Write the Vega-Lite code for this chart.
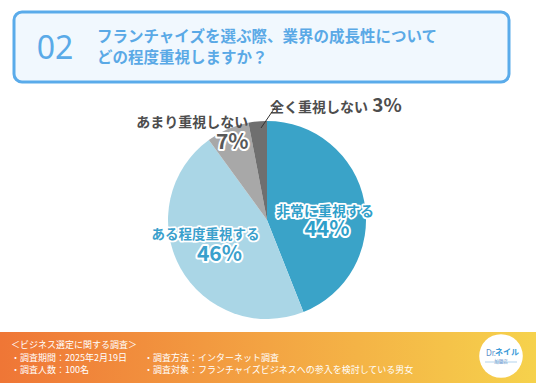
{
  "$schema": "https://vega.github.io/schema/vega-lite/v6.json",
  "width": 536,
  "height": 383,
  "autosize": {"type": "none"},
  "padding": 0,
  "background": "white",
  "config": {"view": {"stroke": null}, "text": {"font": "Noto Sans CJK JP"}},
  "layer": [
    {
      "data": {"values": [{}]},
      "mark": {"type": "rect", "fill": "#f1f8fe", "stroke": "#5aabea", "strokeWidth": 3, "cornerRadius": 8},
      "encoding": {"x": {"value": 14}, "x2": {"value": 509}, "y": {"value": 12}, "y2": {"value": 82}}
    },
    {
      "data": {"values": [{"t": "02"}]},
      "mark": {"type": "text", "fontSize": 32, "fontWeight": 400, "font": "Noto Sans", "color": "#5aaae8", "align": "center", "baseline": "middle"},
      "encoding": {"x": {"value": 55}, "y": {"value": 49}, "text": {"field": "t"}}
    },
    {
      "data": {"values": [{"t": "フランチャイズを選ぶ際、業界の成長性について\nどの程度重視しますか？"}]},
      "mark": {"type": "text", "fontSize": 15.5, "fontWeight": "bold", "color": "#5aa9e6", "align": "left", "baseline": "middle", "lineBreak": "\n", "lineHeight": 21},
      "encoding": {"x": {"value": 97}, "y": {"value": 37}, "text": {"field": "t"}}
    },
    {
      "data": {"values": [
        {"rank": 1, "name": "非常に重視する", "value": 44, "pct": "44%"},
        {"rank": 2, "name": "ある程度重視する", "value": 46, "pct": "46%"},
        {"rank": 3, "name": "あまり重視しない", "value": 7, "pct": "7%"},
        {"rank": 4, "name": "全く重視しない", "value": 3, "pct": "3%"}
      ]},
      "encoding": {
        "x": {"value": 267},
        "y": {"value": 220},
        "theta": {"field": "value", "type": "quantitative", "stack": true},
        "order": {"field": "rank", "type": "quantitative"}
      },
      "layer": [
        {
          "mark": {"type": "arc", "outerRadius": 99},
          "encoding": {
            "color": {"field": "name", "type": "nominal", "legend": null,
              "scale": {"domain": ["非常に重視する", "ある程度重視する", "あまり重視しない", "全く重視しない"],
                        "range": ["#3aa3c8", "#aad6e6", "#a8a8a8", "#6f6f6f"]}}
          }
        },
        {
          "mark": {"type": "text", "dx": -1, "dy": 3, "fontSize": 14, "fontWeight": "bold", "fill": "white", "stroke": "white", "strokeWidth": 3.5, "strokeJoin": "round", "align": "center", "baseline": "middle"},
          "encoding": {"radius": {"value": 60}, "text": {"condition": {"test": "datum.rank==1", "field": "name"}, "value": ""}}
        },
        {
          "mark": {"type": "text", "dx": -1, "dy": 3, "fontSize": 14, "fontWeight": "bold", "fill": "#2f9fca", "align": "center", "baseline": "middle"},
          "encoding": {"radius": {"value": 60}, "text": {"condition": {"test": "datum.rank==1", "field": "name"}, "value": ""}}
        },
        {
          "mark": {"type": "text", "dx": 1, "dy": 21, "fontSize": 21, "fontWeight": "bold", "fill": "white", "stroke": "white", "strokeWidth": 4, "strokeJoin": "round", "align": "center", "baseline": "middle"},
          "encoding": {"radius": {"value": 60}, "text": {"condition": {"test": "datum.rank==1", "field": "pct"}, "value": ""}}
        },
        {
          "mark": {"type": "text", "dx": 1, "dy": 21, "fontSize": 21, "fontWeight": "bold", "fill": "#2f9fca", "align": "center", "baseline": "middle"},
          "encoding": {"radius": {"value": 60}, "text": {"condition": {"test": "datum.rank==1", "field": "pct"}, "value": ""}}
        },
        {
          "mark": {"type": "text", "dx": -9, "dy": -14, "fontSize": 13.5, "fontWeight": "bold", "fill": "white", "stroke": "white", "strokeWidth": 3.5, "strokeJoin": "round", "align": "center", "baseline": "middle"},
          "encoding": {"radius": {"value": 60}, "text": {"condition": {"test": "datum.rank==2", "field": "name"}, "value": ""}}
        },
        {
          "mark": {"type": "text", "dx": -9, "dy": -14, "fontSize": 13.5, "fontWeight": "bold", "fill": "#3aa0cc", "align": "center", "baseline": "middle"},
          "encoding": {"radius": {"value": 60}, "text": {"condition": {"test": "datum.rank==2", "field": "name"}, "value": ""}}
        },
        {
          "mark": {"type": "text", "dx": 5, "dy": 6, "fontSize": 21, "fontWeight": "bold", "fill": "white", "stroke": "white", "strokeWidth": 4, "strokeJoin": "round", "align": "center", "baseline": "middle"},
          "encoding": {"radius": {"value": 60}, "text": {"condition": {"test": "datum.rank==2", "field": "pct"}, "value": ""}}
        },
        {
          "mark": {"type": "text", "dx": 5, "dy": 6, "fontSize": 21, "fontWeight": "bold", "fill": "#3aa0cc", "align": "center", "baseline": "middle"},
          "encoding": {"radius": {"value": 60}, "text": {"condition": {"test": "datum.rank==2", "field": "pct"}, "value": ""}}
        },
        {
          "mark": {"type": "text", "dx": -41, "dy": -19, "fontSize": 14, "fontWeight": "bold", "fill": "#4d4d4d", "align": "center", "baseline": "middle"},
          "encoding": {"radius": {"value": 85}, "text": {"condition": {"test": "datum.rank==3", "field": "name"}, "value": ""}}
        },
        {
          "mark": {"type": "text", "dx": -1, "dy": 1, "fontSize": 21, "fontWeight": "bold", "fill": "white", "stroke": "white", "strokeWidth": 4, "strokeJoin": "round", "align": "center", "baseline": "middle"},
          "encoding": {"radius": {"value": 85}, "text": {"condition": {"test": "datum.rank==3", "field": "pct"}, "value": ""}}
        },
        {
          "mark": {"type": "text", "dx": -1, "dy": 1, "fontSize": 21, "fontWeight": "bold", "fill": "#595959", "align": "center", "baseline": "middle"},
          "encoding": {"radius": {"value": 85}, "text": {"condition": {"test": "datum.rank==3", "field": "pct"}, "value": ""}}
        },
        {
          "mark": {"type": "text", "dx": 61, "dy": -17, "fontSize": 14, "fontWeight": "bold", "fill": "#4d4d4d", "align": "center", "baseline": "middle"},
          "encoding": {"radius": {"value": 95}, "text": {"condition": {"test": "datum.rank==4", "field": "name"}, "value": ""}}
        },
        {
          "mark": {"type": "text", "dx": 129, "dy": -19, "fontSize": 19, "fontWeight": "bold", "fill": "#4d4d4d", "align": "center", "baseline": "middle"},
          "encoding": {"radius": {"value": 95}, "text": {"condition": {"test": "datum.rank==4", "field": "pct"}, "value": ""}}
        }
      ]
    },
    {
      "data": {"values": [{}]},
      "mark": {"type": "rule", "color": "#333333", "strokeWidth": 1},
      "encoding": {"x": {"value": 261}, "y": {"value": 128}, "x2": {"value": 276}, "y2": {"value": 106}}
    },
    {
      "data": {"values": [{}]},
      "mark": {"type": "rect", "fill": {"gradient": "linear", "x1": 0, "y1": 0, "x2": 1, "y2": 0,
        "stops": [{"offset": 0, "color": "#ef7636"}, {"offset": 0.5, "color": "#f3a443"}, {"offset": 1, "color": "#f6d24c"}]}},
      "encoding": {"x": {"value": 0}, "x2": {"value": 536}, "y": {"value": 332}, "y2": {"value": 383}}
    },
    {
      "data": {"values": [{"t": "＜ビジネス選定に関する調査＞\n・調査期間：2025年2月19日\n・調査人数：100名"}]},
      "mark": {"type": "text", "fontSize": 9, "color": "white", "align": "left", "baseline": "middle", "lineBreak": "\n", "lineHeight": 12.5},
      "encoding": {"x": {"value": 11}, "y": {"value": 345}, "text": {"field": "t"}}
    },
    {
      "data": {"values": [{"t": "・調査方法：インターネット調査\n・調査対象：フランチャイズビジネスへの参入を検討している男女"}]},
      "mark": {"type": "text", "fontSize": 9, "color": "white", "align": "left", "baseline": "middle", "lineBreak": "\n", "lineHeight": 12.5},
      "encoding": {"x": {"value": 144}, "y": {"value": 357.5}, "text": {"field": "t"}}
    },
    {
      "data": {"values": [{}]},
      "mark": {"type": "point", "filled": true, "fill": "white", "opacity": 1, "size": 1900, "shape": "circle"},
      "encoding": {"x": {"value": 501}, "y": {"value": 356}}
    },
    {
      "data": {"values": [{"t": "Dr."}]},
      "mark": {"type": "text", "fontSize": 8, "font": "Noto Sans", "color": "#5b8fc9", "align": "center", "baseline": "middle"},
      "encoding": {"x": {"value": 491}, "y": {"value": 354}, "text": {"field": "t"}}
    },
    {
      "data": {"values": [{"t": "ネイル"}]},
      "mark": {"type": "text", "fontSize": 8, "fontWeight": "bold", "color": "#3a9ad8", "align": "center", "baseline": "middle"},
      "encoding": {"x": {"value": 507}, "y": {"value": 353}, "text": {"field": "t"}}
    },
    {
      "data": {"values": [{}]},
      "mark": {"type": "rule", "color": "#7fb5e0", "strokeWidth": 0.6},
      "encoding": {"x": {"value": 485}, "x2": {"value": 517}, "y": {"value": 362}, "y2": {"value": 362}}
    },
    {
      "data": {"values": [{"t": "加盟店"}]},
      "mark": {"type": "text", "fontSize": 4.5, "color": "#5b8fc9", "align": "center", "baseline": "middle"},
      "encoding": {"x": {"value": 501}, "y": {"value": 362}, "text": {"field": "t"}}
    }
  ]
}
